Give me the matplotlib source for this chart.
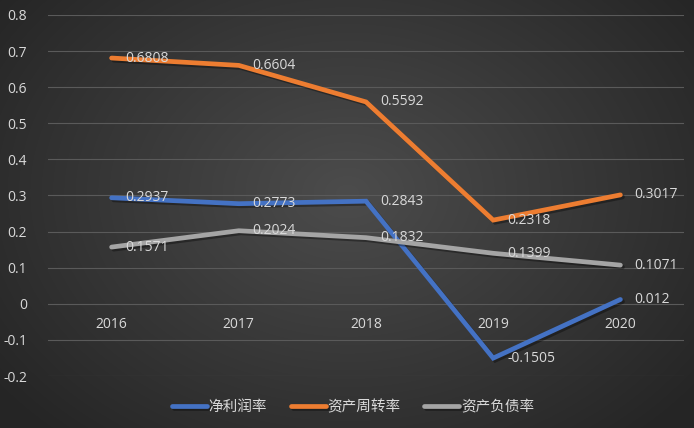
import numpy as np
import matplotlib
matplotlib.use("Agg")
import matplotlib.pyplot as plt
import matplotlib.patheffects as pe

plt.rcParams['font.family'] = ['Noto Sans CJK SC', 'DejaVu Sans']

years = ['2016', '2017', '2018', '2019', '2020']
net_margin = [0.2937, 0.2773, 0.2843, -0.1505, 0.012]
asset_turnover = [0.6808, 0.6604, 0.5592, 0.2318, 0.3017]
debt_ratio = [0.1571, 0.2024, 0.1832, 0.1399, 0.1071]
series_names = ['净利润率', '资产周转率', '资产负债率']
colors = ['#4472C4', '#ED7D31', '#A5A5A5']
yticks = [-0.2, -0.1, 0, 0.1, 0.2, 0.3, 0.4, 0.5, 0.6, 0.7, 0.8]
ytick_labels = ['-0.2', '-0.1', '0', '0.1', '0.2', '0.3', '0.4', '0.5', '0.6', '0.7', '0.8']

W, H = 694, 428
fig = plt.figure(figsize=(W / 100, H / 100), dpi=100)

# radial gradient background
bg = fig.add_axes([0, 0, 1, 1])
yy, xx = np.mgrid[0:H, 0:W]
cx, cy = W * 0.5, H * 0.45
r = np.sqrt(((xx - cx) / (W * 0.62)) ** 2 + ((yy - cy) / (H * 0.75)) ** 2)
r = np.clip(r, 0, 1)
c_in = np.array([0x4c, 0x4c, 0x4c]) / 255
c_out = np.array([0x26, 0x26, 0x26]) / 255
img = c_in[None, None, :] * (1 - r[..., None]) + c_out[None, None, :] * r[..., None]
bg.imshow(img, extent=[0, 1, 0, 1], aspect='auto', zorder=0)
bg.set_axis_off()

ax = fig.add_axes([48 / W, 1 - 376 / H, (684 - 48) / W, (376 - 15) / H])
ax.patch.set_alpha(0)
ax.set_ylim(-0.2, 0.8)
ax.set_xlim(-0.5, len(years) - 0.5)
ax.set_yticks(yticks)
ax.set_yticklabels(ytick_labels)
ax.set_xticks([])
for s in ax.spines.values():
    s.set_visible(False)
ax.tick_params(axis='y', length=0, pad=15, labelcolor='#D9D9D9', labelsize=10)
for lab in ax.get_yticklabels():
    lab.set_family(['Open Sans', 'DejaVu Sans'])
ax.grid(axis='y', color='#5a5a5a', linewidth=0.8)
ax.set_axisbelow(True)

x = np.arange(len(years))
shadow = [pe.SimpleLineShadow(offset=(1.5, -1.5), shadow_color='black', alpha=0.35), pe.Normal()]
all_series = [net_margin, asset_turnover, debt_ratio]
for vals, name, col in zip(all_series, series_names, colors):
    ax.plot(x, vals, color=col, linewidth=3.4, label=name, solid_capstyle='round',
            solid_joinstyle='miter', path_effects=shadow, zorder=3)
    for xi, v in zip(x, vals):
        ax.annotate(f'{v:g}', (xi, v), xytext=(10, 0), textcoords='offset points',
                    ha='left', va='center', color='#D9D9D9', fontsize=10,
                    family=['Open Sans', 'DejaVu Sans'], zorder=4)

for xi, yl in zip(x, years):
    ax.annotate(yl, (xi, 0), xytext=(0, -15), textcoords='offset points',
                ha='center', va='center', color='#D9D9D9', fontsize=10,
                family=['Open Sans', 'DejaVu Sans'])

leg = ax.legend(loc='center', bbox_to_anchor=(353 / W, (H - 407) / H), bbox_transform=fig.transFigure,
                ncol=3, frameon=False, fontsize=10.5, handlelength=2.4, columnspacing=1.6,
                handletextpad=0.15)
for t in leg.get_texts():
    t.set_color('#D9D9D9')

fig.savefig('out.png', dpi=100)
